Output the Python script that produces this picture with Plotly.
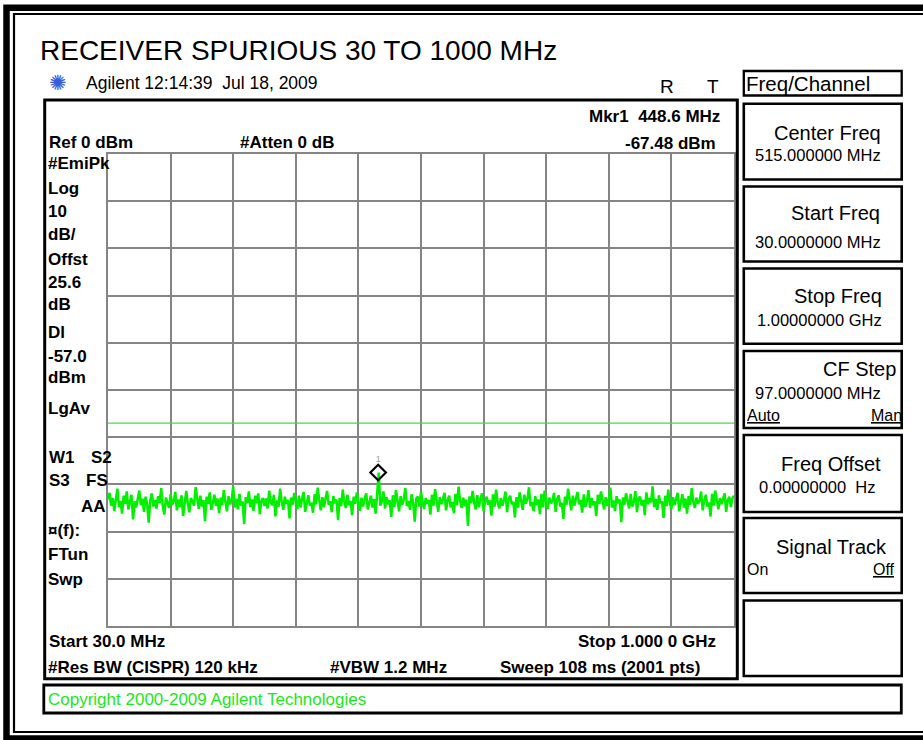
import numpy as np
import plotly.graph_objects as go

# ---------------- data ----------------
TITLE = "RECEIVER SPURIOUS 30 TO 1000 MHz"
START_MHZ = 30.0
STOP_MHZ = 1000.0
REF_DBM = 0.0
DB_PER_DIV = 10.0
DISPLAY_LINE_DBM = -57.0
MARKER_FREQ_MHZ = 448.6
MARKER_LEVEL_DBM = -67.48

# trace levels (dBm), evenly spaced from start to stop
LEVELS_DBM = [
    -73.2, -71.8, -74.5, -72.9, -75.6, -73.1, -70.9, -74.8, -73.5, -76.2, -72.4, -74.1, -71.5, -75.3, -73.8, -72.2, -77.4, -73.6, -74.9, -72.7,
    -71.3, -74.4, -73.0, -75.8, -72.6, -74.2, -78.1, -73.4, -71.9, -74.7, -73.3, -75.1, -72.5, -73.9, -70.8, -74.6, -76.4, -72.8, -73.7, -75.0,
    -72.1, -74.3, -73.6, -71.6, -75.5, -73.2, -74.8, -72.3, -76.7, -73.5, -71.4, -74.0, -75.9, -72.9, -73.8, -74.5, -70.6, -73.1, -75.2, -72.4,
    -74.7, -73.3, -77.8, -72.6, -74.1, -71.7, -75.4, -73.9, -72.2, -74.6, -73.0, -76.1, -72.8, -74.4, -71.2, -73.7, -75.7, -72.5, -74.2, -73.4,
    -70.4, -74.9, -73.1, -75.3, -72.0, -74.5, -73.6, -78.4, -72.7, -73.9, -71.5, -74.8, -73.2, -75.6, -72.4, -74.0, -71.9, -76.3, -73.5, -72.9,
    -74.6, -73.0, -75.1, -71.3, -73.8, -74.4, -72.2, -76.8, -73.4, -74.7, -70.9, -73.6, -75.4, -72.6, -74.1, -73.3, -77.2, -72.8, -74.3, -71.8,
    -73.7, -75.2, -72.4, -74.9, -73.1, -71.6, -75.8, -73.5, -72.3, -74.5, -73.9, -76.0, -72.1, -74.2, -70.7, -73.4, -75.5, -72.7, -74.8, -73.0,
    -71.4, -74.3, -73.6, -75.9, -72.5, -74.0, -73.2, -77.6, -72.9, -74.6, -71.1, -73.8, -75.0, -72.2, -74.4, -73.5, -76.5, -72.6, -74.1, -71.7,
    -73.3, -75.6, -72.8, -74.7, -73.0, -71.9, -75.3, -73.7, -72.4, -74.9, -73.1, -76.2, -72.0, -67.5, -74.5, -73.6, -71.5, -75.1, -72.7, -74.2,
    -73.4, -76.9, -72.3, -74.8, -71.2, -73.9, -75.7, -72.5, -74.3, -73.2, -70.8, -74.6, -73.5, -75.4, -72.1, -74.0, -77.9, -73.0, -72.6, -74.7,
    -71.6, -73.8, -75.2, -72.9, -74.1, -73.3, -76.4, -72.2, -74.5, -71.0, -73.6, -75.8, -72.7, -74.2, -73.1, -71.8, -75.5, -73.4, -72.4, -74.9,
    -73.7, -76.1, -72.0, -74.4, -70.5, -73.5, -75.0, -72.8, -74.6, -73.2, -78.8, -72.5, -74.0, -71.4, -73.9, -75.3, -72.3, -74.8, -73.0, -71.9,
    -75.6, -73.6, -72.6, -74.3, -73.4, -76.6, -72.1, -74.7, -71.1, -73.8, -75.1, -72.9, -74.5, -73.3, -71.5, -75.9, -73.1, -72.4, -74.2, -73.7,
    -77.0, -72.7, -74.9, -71.7, -73.5, -75.4, -72.2, -74.1, -73.0, -70.6, -74.6, -73.8, -75.7, -72.5, -74.4, -73.2, -76.3, -72.0, -74.8, -71.3,
    -73.6, -75.2, -72.8, -74.0, -73.4, -71.8, -75.8, -73.1, -72.3, -74.7, -73.9, -77.3, -72.6, -74.3, -70.9, -73.7, -75.5, -72.4, -74.5, -73.0,
    -71.6, -74.2, -73.3, -76.0, -72.1, -74.8, -73.5, -71.2, -75.0, -72.9, -74.4, -73.6, -76.7, -72.2, -74.1, -71.5, -73.8, -75.3, -72.7, -74.6,
    -73.1, -70.7, -74.9, -73.4, -75.6, -72.5, -74.0, -73.2, -78.0, -72.8, -74.3, -71.9, -73.5, -75.1, -72.0, -74.7, -73.7, -71.4, -75.9, -73.0,
    -72.6, -74.5, -73.3, -76.5, -71.7, -74.2, -72.9, -73.8, -70.4, -74.8, -73.1, -75.4, -72.3, -74.0, -73.6, -77.1, -72.4, -74.6, -71.1, -73.9,
    -75.2, -72.7, -74.4, -73.2, -71.8, -75.7, -73.4, -72.1, -74.9, -73.0, -76.2, -72.5, -74.3, -70.8, -73.7, -75.0, -72.8, -74.1, -73.5, -71.5,
    -75.5, -73.3, -72.2, -74.7, -73.8, -76.8, -72.0, -74.5, -71.3, -73.6, -75.3, -72.9, -74.2, -73.1, -71.9, -75.8, -73.4, -72.6, -74.8, -73.0,
    -72.4,
]
FREQS_MHZ = np.linspace(START_MHZ, STOP_MHZ, len(LEVELS_DBM))

LEFT_LABELS = ["#EmiPk", "Log", "10", "dB/", "Offst", "25.6", "dB", "Dl", "-57.0", "dBm", "LgAv"]
SOFTKEY_NAMES = ["Center Freq", "Start Freq", "Stop Freq", "CF Step", "Freq Offset", "Signal Track", ""]
SOFTKEY_VALUES = ["515.000000 MHz", "30.0000000 MHz", "1.00000000 GHz", "97.0000000 MHz", "0.00000000  Hz", "", ""]

# ---------------- layout helpers ----------------
W, H = 923, 740
FONT = "Liberation Sans, Arial, sans-serif"
TRACE_GREEN = "#00f000"
GRID = "#858585"


def X(px):
    return px / W


def Y(py):
    return 1 - py / H


annotations = []
shapes = []


def txt(x, y, s, size, bold=False, color="black", anchor="left"):
    annotations.append(dict(
        x=X(x), y=Y(y), xref="paper", yref="paper",
        text=f"<b>{s}</b>" if bold else s, showarrow=False,
        xanchor=anchor, yanchor="middle", borderpad=0,
        font=dict(family=FONT, size=size, color=color)))


def rect(x0, y0, x1, y1, width, color="black"):
    shapes.append(dict(type="rect", xref="paper", yref="paper",
                       x0=X(x0), y0=Y(y0), x1=X(x1), y1=Y(y1),
                       line=dict(color=color, width=width), fillcolor="rgba(0,0,0,0)",
                       layer="above"))


# ---------------- figure ----------------
fig = go.Figure()

fig.add_trace(go.Scatter(
    x=[START_MHZ, STOP_MHZ], y=[DISPLAY_LINE_DBM, DISPLAY_LINE_DBM],
    mode="lines", line=dict(color="#3ee03e", width=1.2), hoverinfo="skip"))

fig.add_trace(go.Scatter(
    x=FREQS_MHZ, y=LEVELS_DBM, mode="lines",
    line=dict(color=TRACE_GREEN, width=2.5), hoverinfo="skip"))

fig.add_trace(go.Scatter(
    x=[MARKER_FREQ_MHZ], y=[MARKER_LEVEL_DBM], mode="markers+text",
    marker=dict(symbol="diamond-open", size=12, color="black", line=dict(width=2.2, color="black")),
    text=["1"], textposition="top center",
    textfont=dict(family=FONT, size=9, color="#a0a0a0"), hoverinfo="skip"))

# frame
rect(6.5, 7.8, 940, 738.5, 6.5)
rect(14, 14, 940, 732, 2.2)
# main display box
rect(44.7, 100, 737.3, 678.7, 3)
# copyright box
rect(43.8, 685, 901.3, 713, 2.8)
# menu title box
rect(743.8, 71, 901.7, 95.5, 2.3)
# softkey boxes
SOFTKEY_Y = [(103.8, 179.5), (186.5, 261.5), (268.5, 343.8), (351, 428),
             (435, 512), (518, 593), (600.5, 676)]
for (y0, y1) in SOFTKEY_Y:
    rect(743.8, y0, 901.7, y1, 2.6)

# title and header
txt(39, 51, TITLE, 28)
txt(58, 83, "✺", 21, color="#3a5be0", anchor="center")
txt(85, 82.5, "Agilent 12:14:39  Jul 18, 2009", 17.5)
txt(659, 86, "R", 19)
txt(706, 86, "T", 19)

# display annotations
txt(48, 142.5, "Ref 0 dBm", 17, bold=True)
txt(239, 142.5, "#Atten 0 dB", 17, bold=True)
txt(721, 116.7, "Mkr1  448.6 MHz", 17, bold=True, anchor="right")
txt(717, 143.3, "-67.48 dBm", 17, bold=True, anchor="right")

LEFT_Y = [163.3, 188.3, 211.7, 235, 259, 282.3, 304, 333, 356.7, 377.7, 408.3]
for lab, yy in zip(LEFT_LABELS, LEFT_Y):
    txt(47, yy, lab, 17, bold=True)
txt(48, 457.3, "W1", 17, bold=True)
txt(90, 457.3, "S2", 17, bold=True)
txt(48, 480.7, "S3", 17, bold=True)
txt(85, 480.7, "FS", 17, bold=True)
txt(107, 506, "AA", 17, bold=True, anchor="right")
txt(47, 530.7, "¤(f):", 17, bold=True)
txt(47, 554.3, "FTun", 17, bold=True)
txt(47, 579, "Swp", 17, bold=True)

txt(48, 641.7, "Start 30.0 MHz", 17, bold=True)
txt(717, 641.7, "Stop 1.000 0 GHz", 17, bold=True, anchor="right")
txt(47, 667.3, "#Res BW (CISPR) 120 kHz", 17, bold=True)
txt(329, 667.3, "#VBW 1.2 MHz", 17, bold=True)
txt(499, 667.3, "Sweep 108 ms (2001 pts)", 17, bold=True)
txt(47, 699.5, "Copyright 2000-2009 Agilent Technologies", 17, color="#22e622")

# softkey menu text
txt(745, 84, "Freq/Channel", 20.5)
KEY_RIGHT = [882, 881, 883.3, 897, 882, 888]
KEY_Y = [133.3, 213, 295.8, 369.3, 464, 546.7]
VAL_LEFT = [754, 754, 756, 754, 758]
VAL_Y = [155, 241.7, 320.2, 393.3, 486.7]
for i, name in enumerate(SOFTKEY_NAMES):
    if name:
        txt(KEY_RIGHT[i], KEY_Y[i], name, 20, anchor="right")
    if SOFTKEY_VALUES[i]:
        txt(VAL_LEFT[i], VAL_Y[i], SOFTKEY_VALUES[i], 16.5)
txt(746, 415, "<u>Auto</u>", 16)
txt(902.5, 415, "<u>Man</u>", 16, anchor="right")
txt(746, 569.3, "On", 16)
txt(896, 569.3, "<u>Off</u>", 16, anchor="right")

fig.update_layout(
    width=W, height=H, margin=dict(l=0, r=0, t=0, b=0),
    paper_bgcolor="white", plot_bgcolor="white", showlegend=False,
    annotations=annotations, shapes=shapes,
    xaxis=dict(domain=[X(108), X(734)], range=[START_MHZ, STOP_MHZ],
               tick0=START_MHZ, dtick=(STOP_MHZ - START_MHZ) / 10,
               showgrid=True, gridcolor=GRID, gridwidth=2,
               showticklabels=False, ticks="", zeroline=False,
               showline=True, linecolor=GRID, linewidth=2, mirror=True,
               fixedrange=True),
    yaxis=dict(domain=[Y(626), Y(154)], range=[REF_DBM - 10 * DB_PER_DIV, REF_DBM],
               tick0=REF_DBM, dtick=DB_PER_DIV,
               showgrid=True, gridcolor=GRID, gridwidth=2,
               showticklabels=False, ticks="", zeroline=False,
               showline=True, linecolor=GRID, linewidth=2, mirror=True,
               fixedrange=True),
)

fig.write_html("out.html", config={"displayModeBar": False},
               post_script="document.body.style.margin='0';document.body.style.overflow='hidden';")
